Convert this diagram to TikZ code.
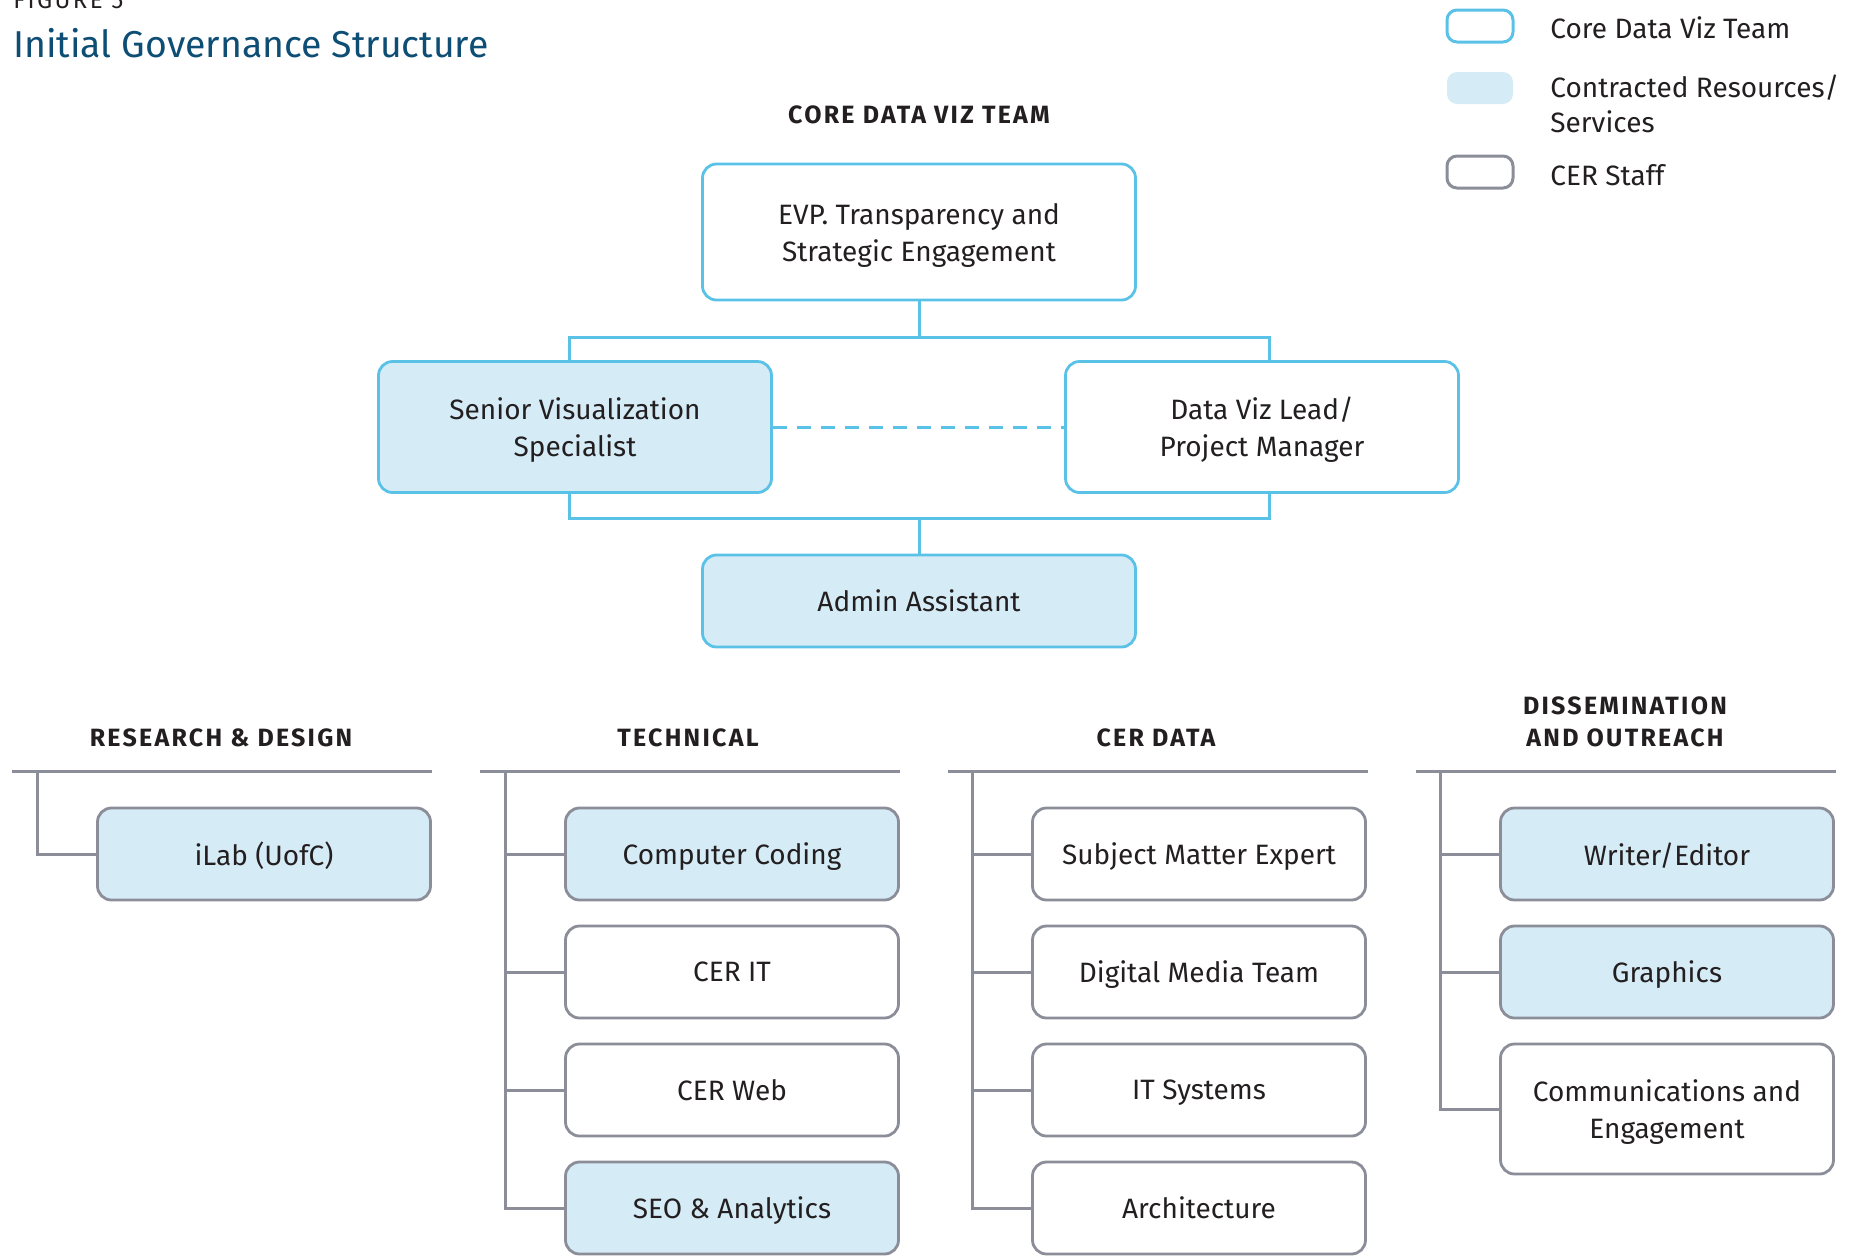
\documentclass[tikz,border=0pt]{standalone}
\usepackage{fontspec}
\setmainfont{Fira Sans}
\usetikzlibrary{positioning}

\definecolor{ink}{HTML}{231F20}
\definecolor{titleblue}{HTML}{0E4D74}
\definecolor{vizblue}{HTML}{5BC2E7}
\definecolor{vizlight}{HTML}{D5EBF6}
\definecolor{staffgray}{HTML}{8B8D98}

\newcommand{\bodyfont}{\fontsize{14}{18.5}\selectfont}
\newcommand{\headfont}{\fontsize{12.5}{16}\selectfont\bfseries\addfontfeatures{LetterSpace=9}}

\tikzset{
	box/.style={rounded corners=7pt, line width=1.4pt, align=center, text=ink, font=\bodyfont, text depth=0pt},
	core/.style={box, draw=vizblue, fill=white},
	corefill/.style={box, draw=vizblue, fill=vizlight},
	staff/.style={box, draw=staffgray, fill=white, minimum width=166.5pt, minimum height=46pt},
	contract/.style={box, draw=staffgray, fill=vizlight, minimum width=166.5pt, minimum height=46pt},
	link/.style={draw=vizblue, line width=1.5pt},
	branch/.style={draw=staffgray, line width=1.5pt},
	head/.style={text=ink, font=\headfont, align=center},
	legendkey/.style={rounded corners=5pt, line width=1.5pt, minimum width=33pt, minimum height=16pt},
	legendtext/.style={anchor=west, align=left, inner xsep=0pt, text=ink, font=\fontsize{14}{17.5}\selectfont}
}

\begin{document}
\begin{tikzpicture}[x=0.5pt,y=-0.5pt]
	\useasboundingbox (0,0) rectangle (1854,1255);

	\node (fig) at (13,8) [anchor=base west, inner sep=0pt, text=ink, font=\fontsize{12}{14}\selectfont\addfontfeatures{LetterSpace=10}] {FIGURE 5};
	\node (title) at (13,57) [anchor=base west, inner sep=0pt, text=titleblue, font=\fontsize{18.7}{23}\selectfont] {Initial Governance Structure};

	\node (key-core) at (1480,26) [legendkey, draw=vizblue, fill=white] {};
	\node (key-contract) at (1480,88) [legendkey, fill=vizlight] {};
	\node (key-staff) at (1480,172) [legendkey, draw=staffgray, fill=white] {};
	\node (lbl-core) at (1550,28) [legendtext] {Core Data Viz Team};
	\node (lbl-contract) at (1550,104) [legendtext] {Contracted Resources/\\Services};
	\node (lbl-staff) at (1550,175) [legendtext] {CER Staff};

	\node (core-head) at (919,115) [head] {CORE DATA VIZ TEAM};
	\node (evp) at (919,232) [core, minimum width=216.5pt, minimum height=68pt] {EVP. Transparency and\\Strategic Engagement};
	\node (svs) at (575,427) [corefill, minimum width=196.5pt, minimum height=65.5pt] {Senior Visualization\\Specialist};
	\node (dvl) at (1262,427) [core, minimum width=196.5pt, minimum height=65.5pt] {Data Viz Lead/\\Project Manager};
	\node (admin) at (919,601) [corefill, minimum width=216.5pt, minimum height=46pt] {Admin Assistant};

	\coordinate (top) at (919,337);
	\coordinate (bot) at (919,518);
	\draw[link] (evp.south) -- (top);
	\draw[link] ([xshift=-3pt]svs.north) |- (top) -| ([xshift=3.5pt]dvl.north);
	\draw[link] ([xshift=-3pt]svs.south) |- (bot) -| ([xshift=3.5pt]dvl.south);
	\draw[link] (bot) -- (admin.north);
	\draw[link, dash pattern=on 7pt off 5pt] (svs.east) -- (dvl.west);

	\node (rd-head) at (221,738) [head] {RESEARCH \& DESIGN};
	\node (te-head) at (688,738) [head] {TECHNICAL};
	\node (cd-head) at (1156,738) [head] {CER DATA};
	\node (do-head) at (1625,722) [head] {DISSEMINATION\\AND OUTREACH};

	\node (ilab) at (264,854) [contract] {iLab (UofC)};
	\node (code) at (732,854) [contract] {Computer Coding};
	\node (cerit) at (732,972) [staff] {CER IT};
	\node (cerweb) at (732,1090) [staff] {CER Web};
	\node (seo) at (732,1208) [contract] {SEO \& Analytics};
	\node (sme) at (1199,854) [staff] {Subject Matter Expert};
	\node (media) at (1199,972) [staff] {Digital Media Team};
	\node (itsys) at (1199,1090) [staff] {IT Systems};
	\node (arch) at (1199,1208) [staff] {Architecture};
	\node (writer) at (1667,854) [contract] {Writer/Editor};
	\node (graphics) at (1667,972) [contract] {Graphics};
	\node (comms) at (1667,1109) [staff, minimum height=65pt] {Communications and\\Engagement};

	\coordinate (rd-a) at (12,771);
	\coordinate (rd-b) at (432,771);
	\coordinate (rd-t) at (37,771);
	\coordinate (te-a) at (480,771);
	\coordinate (te-b) at (900,771);
	\coordinate (te-t) at (505,771);
	\coordinate (cd-a) at (948,771);
	\coordinate (cd-b) at (1368,771);
	\coordinate (cd-t) at (972,771);
	\coordinate (do-a) at (1416,771);
	\coordinate (do-b) at (1836,771);
	\coordinate (do-t) at (1440,771);

	\draw[branch] (rd-a) -- (rd-b);
	\draw[branch] (te-a) -- (te-b);
	\draw[branch] (cd-a) -- (cd-b);
	\draw[branch] (do-a) -- (do-b);
	\draw[branch] (rd-t) |- (ilab.west);
	\draw[branch] (te-t) |- (seo.west);
	\draw[branch] (cd-t) |- (arch.west);
	\draw[branch] (do-t) |- (comms.west);
	\foreach \n in {code,cerit,cerweb}
		\draw[branch] (te-t |- \n.west) -- (\n.west);
	\foreach \n in {sme,media,itsys}
		\draw[branch] (cd-t |- \n.west) -- (\n.west);
	\foreach \n in {writer,graphics}
		\draw[branch] (do-t |- \n.west) -- (\n.west);
\end{tikzpicture}
\end{document}
